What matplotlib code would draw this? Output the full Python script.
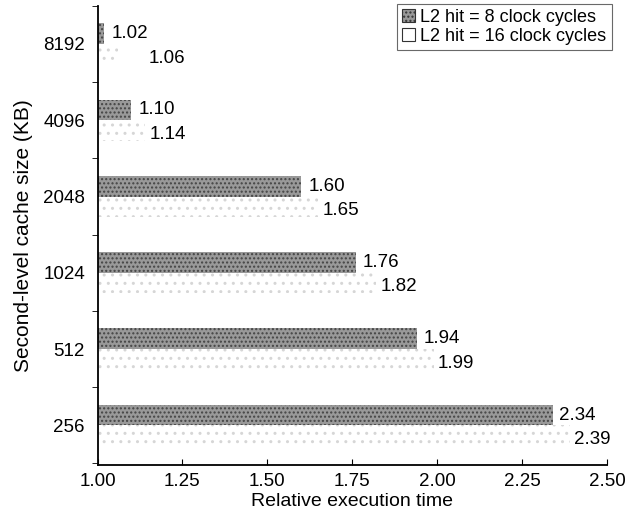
import matplotlib
matplotlib.use("Agg")
import matplotlib.pyplot as plt
from matplotlib.patches import Patch
import numpy as np

plt.rcParams['font.family'] = ['Liberation Sans', 'DejaVu Sans']
plt.rcParams['hatch.linewidth'] = 1.0

# data (bottom to top)
sizes = ['256', '512', '1024', '2048', '4096', '8192']
hit8 = [2.34, 1.94, 1.76, 1.60, 1.10, 1.02]
hit16 = [2.39, 1.99, 1.82, 1.65, 1.14, 1.06]
series_names = ['L2 hit = 8 clock cycles', 'L2 hit = 16 clock cycles']

# extra horizontal nudge (points) for the lower label so it clears the upper one
nudge16 = [3, 3, 3, 3, 3, 22]

fig = plt.figure(figsize=(6.25, 5.29), dpi=100)
ax = fig.add_axes([0.156, 0.121, 0.815, 0.868])

y = np.arange(len(sizes))
h = 0.27
dark_style = dict(color='#999999', edgecolor='#444444', hatch='....', linewidth=0)
light_style = dict(color='white', edgecolor='#d6d6d6', hatch='..', linewidth=0)

ax.barh(y + h / 2, [v - 1 for v in hit8], left=1, height=h, **dark_style)
ax.barh(y - h / 2, [v - 1 for v in hit16], left=1, height=h, **light_style)

# value labels
for yi, a, b, n in zip(y, hit8, hit16, nudge16):
    ax.annotate(f'{a:.2f}', (a, yi + h / 2), xytext=(5, 0), textcoords='offset points',
                va='center', ha='left', fontsize=13.5)
    ax.annotate(f'{b:.2f}', (b, yi - h / 2 - 0.05), xytext=(n, 0),
                textcoords='offset points', va='center', ha='left', fontsize=13.5)

ax.set_xlim(1.0, 2.5)
ax.set_ylim(-0.52, 5.48)
ticks = np.arange(1.0, 2.51, 0.25)
ax.set_xticks(ticks)
ax.set_xticklabels([f'{t:.2f}' for t in ticks], fontsize=13.5)
ax.set_yticks(y)
ax.set_yticklabels(sizes, fontsize=13.5)
ax.tick_params(axis='y', which='major', length=0, pad=9)
ax.set_yticks(np.arange(-0.5, 5.6, 1.0), minor=True)
ax.tick_params(axis='y', which='minor', length=4, direction='out')
ax.tick_params(axis='x', which='major', length=4, direction='in', pad=6)

for s in ['top', 'right']:
    ax.spines[s].set_visible(False)
ax.spines['left'].set_linewidth(1.3)
ax.spines['bottom'].set_linewidth(1.3)

ax.set_xlabel('Relative execution time', fontsize=14, labelpad=2)
ax.set_ylabel('Second-level cache size (KB)', fontsize=15, labelpad=7)

handles = [Patch(facecolor='#999999', edgecolor='#333333', hatch='....', linewidth=0.8),
           Patch(facecolor='white', edgecolor='#333333', linewidth=0.8)]
leg = ax.legend(handles, series_names, loc='upper right', fontsize=13, frameon=True,
                fancybox=False, edgecolor='#444444', handlelength=0.7, handleheight=0.7,
                handletextpad=0.3, borderpad=0.3, labelspacing=0.1, borderaxespad=0,
                bbox_to_anchor=(1.01, 1.005))
leg.get_frame().set_linewidth(0.8)

fig.savefig('out.png', dpi=100)
